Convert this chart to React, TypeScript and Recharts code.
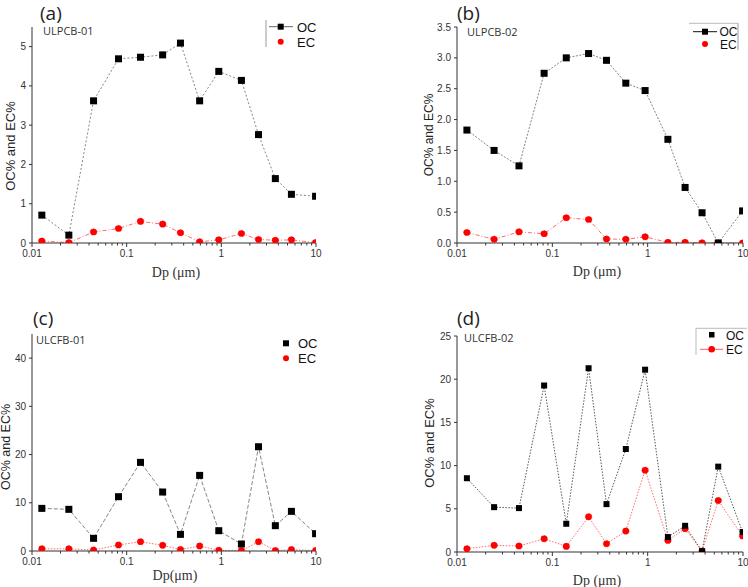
import { LineChart, Line, XAxis, YAxis } from 'recharts';

// particle diameter (µm), stage midpoints
const DP = [0.0127, 0.0245, 0.0447, 0.082, 0.14, 0.24, 0.37, 0.59, 0.94, 1.63, 2.47, 3.72, 5.5, 9.9];

const OC_A = [0.71, 0.2, 3.62, 4.69, 4.73, 4.79, 5.09, 3.62, 4.37, 4.14, 2.76, 1.64, 1.24, 1.19];
const EC_A = [0.05, 0.01, 0.28, 0.37, 0.55, 0.48, 0.26, 0.03, 0.08, 0.24, 0.09, 0.07, 0.08, 0.01];

const OC_B = [1.83, 1.5, 1.25, 2.75, 3.0, 3.07, 2.96, 2.59, 2.47, 1.68, 0.9, 0.49, 0.0, 0.52];
const EC_B = [0.17, 0.06, 0.18, 0.15, 0.41, 0.38, 0.065, 0.06, 0.1, 0.01, 0.01, 0.005, 0.005, 0.0];

const OC_C = [8.84, 8.64, 2.63, 11.26, 18.38, 12.23, 3.45, 15.68, 4.21, 1.45, 21.62, 5.25, 8.22, 3.59];
const EC_C = [0.45, 0.45, 0.2, 1.24, 1.93, 1.17, 0.28, 1.04, 0.14, 0.07, 1.93, 0.07, 0.28, 0.07];

const OC_D = [8.54, 5.19, 5.08, 19.27, 3.27, 21.27, 5.54, 11.92, 21.1, 1.73, 3.03, 0.1, 9.88, 2.31];
const EC_D = [0.38, 0.77, 0.69, 1.53, 0.65, 4.07, 0.96, 2.42, 9.46, 1.34, 2.69, 0.1, 5.95, 1.85];

const X_MAJOR = [0.01, 0.1, 1, 10];
const X_TICKS: number[] = [];
[0.01, 0.1, 1].forEach((d) => {
  for (let k = 1; k <= 9; k++) X_TICKS.push(Number((k * d).toPrecision(3)));
});
X_TICKS.push(10);

const Y_TICKS_A = [0, 1, 2, 3, 4, 5];
const Y_TICKS_B = [0, 0.5, 1, 1.5, 2, 2.5, 3, 3.5];
const Y_TICKS_C = [0, 10, 20, 30, 40];
const Y_TICKS_D = [0, 5, 10, 15, 20, 25];

const AXIS = '#333';
const SANS = "'Liberation Sans', Arial, sans-serif";

const XTick = (props: any) => {
  const { x, y, payload } = props;
  const v = payload.value;
  const major = X_MAJOR.some((m) => Math.abs(m - v) / m < 1e-6);
  return (
    <g>
      <line x1={x} x2={x} y1={y} y2={y + (major ? 4 : 2.5)} stroke={AXIS} strokeWidth={1} />
      {major && (
        <text x={x} y={y + 14} textAnchor="middle" fontSize={10} fill="#333" fontFamily={SANS}>
          {String(v)}
        </text>
      )}
    </g>
  );
};

const makeYTick = (digits: number) => (props: any) => {
  const { x, y, payload } = props;
  return (
    <g>
      <line x1={x} x2={x - 3} y1={y} y2={y} stroke={AXIS} strokeWidth={1} />
      <text x={x - 6} y={y + 3.5} textAnchor="end" fontSize={10} fill="#333" fontFamily={SANS}>
        {payload.value.toFixed(digits)}
      </text>
    </g>
  );
};

const square = (size: number) => (props: any) => {
  const { cx, cy, index } = props;
  return <rect key={'sq' + index} x={cx - size / 2} y={cy - size / 2} width={size} height={size} fill="#000" />;
};

interface PanelProps {
  plot: [number, number, number, number]; // left, top, right, bottom in page px
  oc: number[];
  ec: number[];
  yMax: number;
  yTicks: number[];
  digits: number;
  ocStroke: string;
  ocDash: string;
  ecDash: string;
  sq: number;
}

function Panel({ plot, oc, ec, yMax, yTicks, digits, ocStroke, ocDash, ecDash, sq }: PanelProps) {
  const [l, t, r, b] = plot;
  const yw = 40;
  const xh = 30;
  const mt = 6;
  const mr = 6;
  const data = DP.map((dp, i) => ({ dp, oc: oc[i], ec: ec[i] }));
  return (
    <div style={{ position: 'absolute', left: l - yw, top: t - mt }}>
      <LineChart
        width={r - l + yw + mr}
        height={b - t + mt + xh}
        data={data}
        margin={{ top: mt, right: mr, left: 0, bottom: 0 }}
      >
        <XAxis
          dataKey="dp"
          type="number"
          scale="log"
          domain={[0.01, 10]}
          ticks={X_TICKS}
          allowDataOverflow
          height={xh}
          tickSize={0}
          tickMargin={0}
          stroke={AXIS}
          tick={<XTick />}
          interval={0}
        />
        <YAxis
          type="number"
          domain={[0, yMax]}
          ticks={yTicks}
          width={yw}
          tickSize={0}
          tickMargin={0}
          stroke={AXIS}
          tick={makeYTick(digits)}
          interval={0}
          allowDataOverflow
        />
        <Line
          dataKey="ec"
          stroke="#ff5a5a"
          strokeWidth={0.9}
          strokeDasharray={ecDash}
          dot={{ r: 3.3, fill: '#ff0000', stroke: '#ff0000', strokeWidth: 0.5 }}
          isAnimationActive={false}
        />
        <Line
          dataKey="oc"
          stroke={ocStroke}
          strokeWidth={0.9}
          strokeDasharray={ocDash}
          dot={square(sq)}
          isAnimationActive={false}
        />
      </LineChart>
    </div>
  );
}

function Overlay() {
  const letter = { fontFamily: "'Open Sans', sans-serif", fontSize: 19, fill: '#222' } as const;
  const sample = { fontFamily: "'Open Sans', sans-serif", fontSize: 11, fill: '#333' } as const;
  const legend = { fontFamily: SANS, fontSize: 13, fill: '#111' } as const;
  const legendSm = { fontFamily: SANS, fontSize: 12, fill: '#111' } as const;
  const dp = { fontFamily: "'Liberation Serif', 'Times New Roman', serif", fontSize: 14, fill: '#333' } as const;
  const ytitle = (cx: number, cy: number, fs: number) => (
    <text
      transform={`translate(${cx},${cy}) rotate(-90)`}
      textAnchor="middle"
      dy="0.35em"
      fontFamily={SANS}
      fontSize={fs}
      fill="#222"
    >
      OC% and EC%
    </text>
  );
  return (
    <svg width={748} height={587} style={{ position: 'absolute', left: 0, top: 0, pointerEvents: 'none' }}>
      <text x={40} y={20} {...letter}>(a)</text>
      <text x={457} y={20} {...letter}>(b)</text>
      <text x={33} y={325} {...letter}>(c)</text>
      <text x={457} y={325} {...letter}>(d)</text>

      <text x={43} y={35} {...sample}>ULPCB-01</text>
      <text x={467} y={36} {...sample}>ULPCB-02</text>
      <text x={36} y={344} {...sample}>ULCFB-01</text>
      <text x={464} y={342} {...sample}>ULCFB-02</text>

      {ytitle(10, 146, 13)}
      {ytitle(429, 135, 12)}
      {ytitle(6, 447, 12.5)}
      {ytitle(429, 443, 13)}

      <text x={176} y={277} textAnchor="middle" {...dp}>Dp (μm)</text>
      <text x={597} y={276} textAnchor="middle" {...dp}>Dp (μm)</text>
      <text x={175} y={580} textAnchor="middle" {...dp}>Dp(μm)</text>
      <text x={597} y={585} textAnchor="middle" {...dp}>Dp (μm)</text>

      {/* legend (a) */}
      <line x1={266} x2={266} y1={20} y2={47} stroke="#999" />
      <line x1={269} x2={293} y1={26.7} y2={26.7} stroke="#666" />
      <rect x={277.7} y={23.7} width={6} height={6} fill="#000" />
      <text x={297} y={31.5} {...legend}>OC</text>
      <circle cx={280.7} cy={41.7} r={3} fill="#ff0000" />
      <text x={297} y={46.5} {...legend}>EC</text>

      {/* legend (b) */}
      <line x1={689} x2={738} y1={23.3} y2={23.3} stroke="#bbb" />
      <line x1={738} x2={738} y1={23.3} y2={50} stroke="#999" />
      <line x1={693} x2={717} y1={31.7} y2={31.7} stroke="#111" />
      <rect x={702} y={28.7} width={6} height={6} fill="#000" />
      <text x={719.5} y={36} {...legendSm}>OC</text>
      <circle cx={705} cy={44} r={3} fill="#ff0000" />
      <text x={720} y={48.5} {...legendSm}>EC</text>

      {/* legend (c) */}
      <rect x={283} y={340.3} width={6} height={6} fill="#000" />
      <text x={298} y={348} {...legend}>OC</text>
      <circle cx={286} cy={358.3} r={3} fill="#ff0000" />
      <text x={298} y={363} {...legend}>EC</text>

      {/* legend (d) */}
      <line x1={696} x2={747} y1={328.3} y2={328.3} stroke="#bbb" />
      <line x1={696} x2={696} y1={328.3} y2={355} stroke="#bbb" />
      <rect x={709} y={332} width={5.5} height={5.5} fill="#000" />
      <text x={726} y={339.5} {...legendSm}>OC</text>
      <line x1={700} x2={723} y1={349.3} y2={349.3} stroke="#ff5a5a" />
      <circle cx={711.7} cy={349.3} r={3.3} fill="#ff0000" />
      <text x={726} y={354} {...legendSm}>EC</text>
    </svg>
  );
}

export default function App() {
  return (
    <div style={{ position: 'absolute', left: 0, top: 0, width: 748, height: 587, background: '#fff', overflow: 'hidden' }}>
      <Panel plot={[32, 27, 316, 243]} oc={OC_A} ec={EC_A} yMax={5.5} yTicks={Y_TICKS_A} digits={0}
        ocStroke="#777" ocDash="2 2" ecDash="4 2 1 2" sq={7} />
      <Panel plot={[457, 27, 743, 243]} oc={OC_B} ec={EC_B} yMax={3.5} yTicks={Y_TICKS_B} digits={1}
        ocStroke="#777" ocDash="2 1.5" ecDash="4 2 1 2" sq={7} />
      <Panel plot={[32, 334, 316, 551]} oc={OC_C} ec={EC_C} yMax={45} yTicks={Y_TICKS_C} digits={0}
        ocStroke="#777" ocDash="4 2" ecDash="1.5 1.5" sq={7} />
      <Panel plot={[457, 336, 743, 552]} oc={OC_D} ec={EC_D} yMax={25} yTicks={Y_TICKS_D} digits={0}
        ocStroke="#444" ocDash="1.5 1.5" ecDash="1.5 1.5" sq={6} />
      <Overlay />
    </div>
  );
}
